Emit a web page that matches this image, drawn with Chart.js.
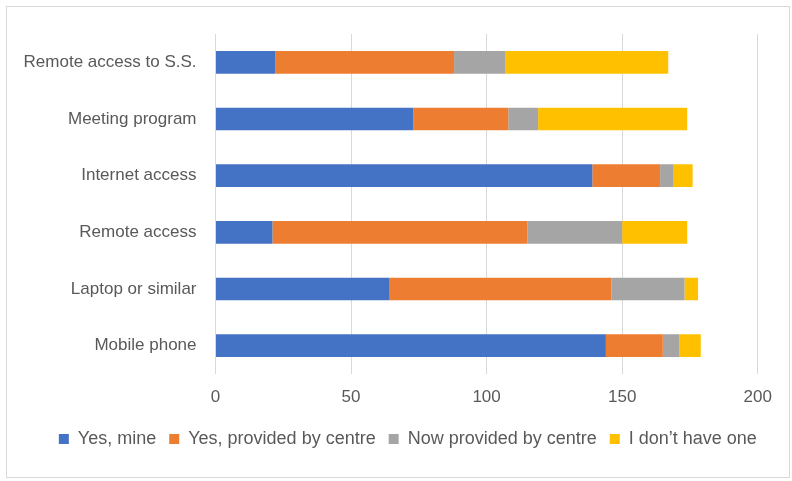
<!DOCTYPE html>
<html>
<head>
<meta charset="utf-8">
<script src="https://cdn.jsdelivr.net/npm/chart.js@4/dist/chart.umd.min.js"></script>
<style>
  html, body { margin: 0; padding: 0; background: #fff; }
  #wrap { position: absolute; left: 0; top: 0; width: 792px; height: 481px; }
</style>
</head>
<body>
<div id="wrap"><canvas id="c" width="792" height="481"></canvas></div>
<script>
const categories = ["Remote access to S.S.", "Meeting program", "Internet access", "Remote access", "Laptop or similar", "Mobile phone"];
const seriesNames = ["Yes, mine", "Yes, provided by centre", "Now provided by centre", "I don\u2019t have one"];
const yesMine = [22, 73, 139, 21, 64, 144];
const yesProvided = [66, 35, 25, 94, 82, 21];
const nowProvided = [19, 11, 5, 35, 27, 6];
const dontHave = [60, 55, 7, 24, 5, 8];
const xTicks = [0, 50, 100, 150, 200];

const colors = ["#4472C4", "#ED7D31", "#A5A5A5", "#FFC000"];
const FONT = "'Liberation Sans', Arial, sans-serif";
const TXT = "#595959";

const frame = {
  id: 'frame',
  beforeDraw(chart) {
    const ctx = chart.ctx;
    ctx.save();
    ctx.strokeStyle = '#D9D9D9';
    ctx.lineWidth = 1;
    ctx.strokeRect(6.5, 6.5, 783, 471);
    ctx.restore();
  }
};

// Shift the legend row so it sits where the original's legend is centred
const legendShift = {
  id: 'legendShift',
  afterLayout(chart) {
    if (chart.legend) {
      chart.legend.left += 29;
      chart.legend.right += 29;
    }
  }
};

new Chart(document.getElementById('c'), {
  type: 'bar',
  data: {
    labels: categories,
    datasets: [yesMine, yesProvided, nowProvided, dontHave].map((d, i) => ({
      label: seriesNames[i],
      data: d,
      backgroundColor: colors[i],
      borderWidth: 0,
      barPercentage: 0.4,
      categoryPercentage: 1.0
    }))
  },
  options: {
    indexAxis: 'y',
    responsive: false,
    animation: false,
    devicePixelRatio: 1,
    layout: { padding: { top: 34, right: 34.3, left: 0, bottom: 23 } },
    plugins: {
      legend: {
        position: 'bottom',
        labels: {
          boxWidth: 10, boxHeight: 10, padding: 13,
          color: TXT, font: { family: FONT, size: 18 }
        }
      },
      tooltip: { enabled: false }
    },
    scales: {
      x: {
        stacked: true,
        min: 0, max: 200,
        afterBuildTicks(axis) { axis.ticks = xTicks.map(v => ({ value: v })); },
        grid: { color: '#D9D9D9', lineWidth: 1, drawTicks: false },
        border: { display: false },
        ticks: { color: TXT, font: { family: FONT, size: 17 }, padding: 13 },
        afterFit(axis) { axis.height = 43; }
      },
      y: {
        stacked: true,
        grid: { display: false, drawTicks: false },
        border: { display: false },
        ticks: { color: TXT, font: { family: FONT, size: 17 }, padding: 19 },
        afterFit(axis) { axis.width = 215.5; }
      }
    }
  },
  plugins: [frame, legendShift]
});
</script>
</body>
</html>
